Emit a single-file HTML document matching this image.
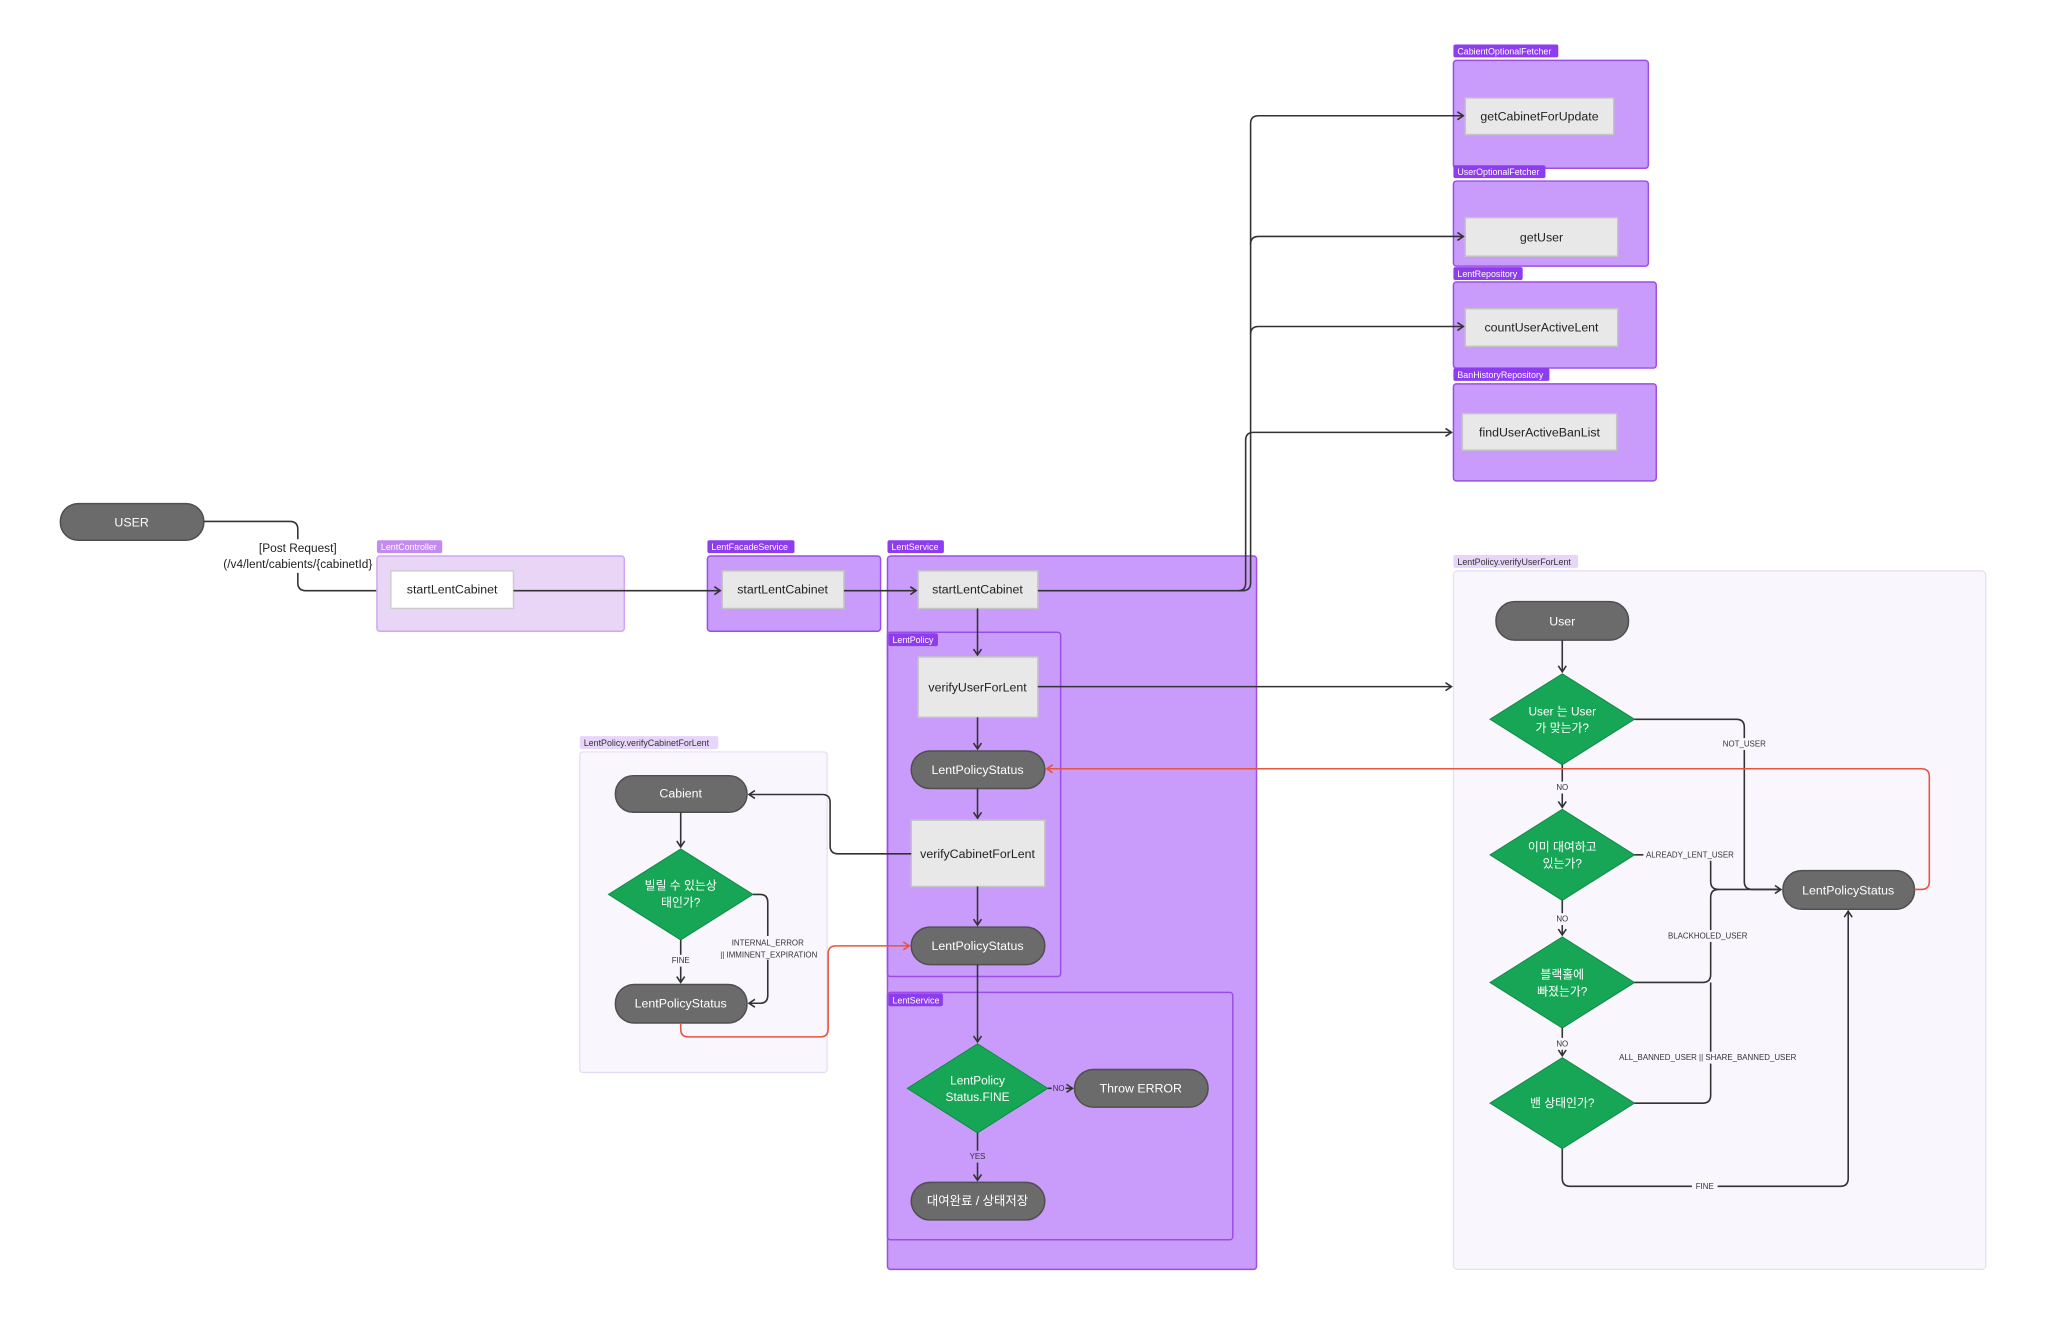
<!DOCTYPE html>
<html><head><meta charset="utf-8"><style>
html,body{margin:0;padding:0;background:#fff;}
svg{display:block;font-family:"Liberation Sans","Noto Sans CJK KR",sans-serif;}
.pill{fill:#6b6b6b;stroke:#4f4f4f;stroke-width:1.5}
.pt{fill:#fff;font-size:12.5px;text-anchor:middle;dominant-baseline:central}
.box{fill:#e8e8e8;stroke:#c4c4c4;stroke-width:1.5}
.bt{fill:#222;font-size:12.5px;text-anchor:middle;dominant-baseline:central}
.grp{fill:#c99cfb;stroke:#9a4ee6;stroke-width:1.5}
.tag{fill:#8d3cf0}
.tt{fill:#fff;font-size:9px;dominant-baseline:central}
.dia{fill:#17a656;stroke:#128a47;stroke-width:1}
.dt{fill:#fff;font-size:12px;text-anchor:middle;dominant-baseline:central}
.ln{fill:none;stroke:#333;stroke-width:1.6}
.rd{fill:none;stroke:#e8553e;stroke-width:1.6}
.lb{fill:#333;font-size:8px;text-anchor:middle;dominant-baseline:central}
</style></head><body>
<svg width="2048" height="1331" viewBox="0 0 2048 1331">
<defs>
<marker id="a" markerWidth="10" markerHeight="10" refX="8" refY="5" orient="auto" markerUnits="userSpaceOnUse"><path d="M2,1 L8,5 L2,9" fill="none" stroke="#333" stroke-width="1.6"/></marker>
<marker id="ar" markerWidth="10" markerHeight="10" refX="8" refY="5" orient="auto" markerUnits="userSpaceOnUse"><path d="M2,1 L8,5 L2,9" fill="none" stroke="#e8553e" stroke-width="1.6"/></marker>
</defs>
<g transform="scale(0.9894)">
<!-- USER -->
<rect class="pill" x="61" y="509" width="145" height="37" rx="18"/>
<text class="pt" x="133" y="528">USER</text>
<path class="ln" d="M206,527 H293 Q301,527 301,535 V589 Q301,597 309,597 H393" marker-end="url(#a)"/>
<rect x="222" y="545" width="158" height="34" fill="#fff"/>
<text class="bt" x="301" y="554" style="font-size:12px">[Post Request]</text>
<text class="bt" x="301" y="570" style="font-size:12px">(/v4/lent/cabients/{cabinetId}</text>

<!-- LentController -->
<rect x="381" y="562" width="250" height="76" rx="3" fill="#e9d6f7" stroke="#cfa6ef" stroke-width="1.5"/>
<rect x="381" y="546" width="66" height="13" rx="2" fill="#c58af2"/><text class="tt" x="385" y="553">LentController</text>
<rect x="395" y="577" width="124" height="38" fill="#fff" stroke="#ccc" stroke-width="1.5"/>
<text class="bt" x="457" y="596">startLentCabinet</text>

<!-- LentFacadeService -->
<rect class="grp" x="715" y="562" width="175" height="76" rx="3"/>
<rect class="tag" x="715" y="546" width="88" height="13" rx="2"/><text class="tt" x="719" y="553">LentFacadeService</text>
<rect class="box" x="730" y="577" width="123" height="38"/>
<text class="bt" x="791" y="596">startLentCabinet</text>

<!-- fetchers -->
<rect class="grp" x="1469" y="61" width="197" height="109" rx="3"/>
<rect class="tag" x="1469" y="45" width="106" height="13" rx="2"/><text class="tt" x="1473" y="52">CabientOptionalFetcher</text>
<rect class="box" x="1481" y="99" width="150" height="37"/><text class="bt" x="1556" y="118">getCabinetForUpdate</text>
<rect class="grp" x="1469" y="183" width="197" height="86" rx="3"/>
<rect class="tag" x="1469" y="167" width="93" height="13" rx="2"/><text class="tt" x="1473" y="174">UserOptionalFetcher</text>
<rect class="box" x="1481" y="220" width="154" height="39"/><text class="bt" x="1558" y="240">getUser</text>
<rect class="grp" x="1469" y="285" width="205" height="87" rx="3"/>
<rect class="tag" x="1469" y="270" width="70" height="13" rx="2"/><text class="tt" x="1473" y="277">LentRepository</text>
<rect class="box" x="1481" y="312" width="154" height="38"/><text class="bt" x="1558" y="331">countUserActiveLent</text>
<rect class="grp" x="1469" y="388" width="205" height="98" rx="3"/>
<rect class="tag" x="1469" y="372" width="97" height="13" rx="2"/><text class="tt" x="1473" y="379">BanHistoryRepository</text>
<rect class="box" x="1478" y="418" width="156" height="37"/><text class="bt" x="1556" y="437">findUserActiveBanList</text>

<!-- LentService big -->
<rect class="grp" x="897" y="562" width="373" height="721" rx="3"/>
<rect class="tag" x="897" y="546" width="57" height="13" rx="2"/><text class="tt" x="901" y="553">LentService</text>
<rect class="box" x="928" y="577" width="121" height="38"/>
<text class="bt" x="988" y="596">startLentCabinet</text>

<path class="ln" d="M519,597 H728" marker-end="url(#a)"/>
<path class="ln" d="M853,597 H926" marker-end="url(#a)"/>

<!-- connectors to fetchers -->
<path class="ln" d="M1049,597 H1256 Q1264,597 1264,589 V125 Q1264,117 1272,117 H1479" marker-end="url(#a)"/>
<path class="ln" d="M1264,247 Q1264,239 1272,239 H1479" marker-end="url(#a)"/>
<path class="ln" d="M1264,338 Q1264,330 1272,330 H1479" marker-end="url(#a)"/>
<path class="ln" d="M1252,597 Q1259,597 1259,589 V445 Q1259,437 1267,437 H1467" marker-end="url(#a)"/>

<!-- LentPolicy sub -->
<rect x="897" y="639" width="175" height="348" rx="3" fill="none" stroke="#9a4ee6" stroke-width="1.5"/>
<rect class="tag" x="898" y="640" width="50" height="13" rx="2"/><text class="tt" x="902" y="647">LentPolicy</text>
<path class="ln" d="M988,615 V662" marker-end="url(#a)"/>
<rect class="box" x="928" y="664" width="121" height="61"/>
<text class="bt" x="988" y="695">verifyUserForLent</text>
<path class="ln" d="M988,725 V757" marker-end="url(#a)"/>
<path class="ln" d="M1049,694 H1467" marker-end="url(#a)"/>
<rect class="pill" x="921" y="759" width="135" height="38" rx="19"/>
<text class="pt" x="988" y="778">LentPolicyStatus</text>
<path class="ln" d="M988,797 V827" marker-end="url(#a)"/>
<rect class="box" x="921" y="829" width="135" height="67"/>
<text class="bt" x="988" y="863">verifyCabinetForLent</text>
<path class="ln" d="M988,896 V935" marker-end="url(#a)"/>
<rect class="pill" x="921" y="937" width="135" height="38" rx="19"/>
<text class="pt" x="988" y="956">LentPolicyStatus</text>

<!-- LentService sub -->
<rect x="897" y="1003" width="349" height="250" rx="3" fill="none" stroke="#9a4ee6" stroke-width="1.5"/>
<rect class="tag" x="898" y="1004" width="55" height="13" rx="2"/><text class="tt" x="902" y="1011">LentService</text>
<path class="ln" d="M988,975 V1053" marker-end="url(#a)"/>
<polygon class="dia" points="988,1055 1059,1100 988,1145 917,1100"/>
<text class="dt" x="988" y="1092">LentPolicy</text><text class="dt" x="988" y="1109">Status.FINE</text>
<path class="ln" d="M1059,1100 H1084" marker-end="url(#a)"/>
<rect x="1063" y="1094" width="14" height="12" fill="#c99cfb"/><text class="lb" x="1070" y="1100">NO</text>
<rect class="pill" x="1086" y="1081" width="135" height="38" rx="19"/>
<text class="pt" x="1153" y="1100">Throw ERROR</text>
<path class="ln" d="M988,1145 V1193" marker-end="url(#a)"/>
<rect x="978" y="1163" width="20" height="12" fill="#c99cfb"/><text class="lb" x="988" y="1169">YES</text>
<rect class="pill" x="921" y="1195" width="135" height="38" rx="19"/>
<text class="pt" x="988" y="1214">대여완료 / 상태저장</text>

<!-- verifyCabinetForLent panel -->
<rect x="586" y="760" width="250" height="324" rx="3" fill="#f9f6fd" stroke="#e6dcf3" stroke-width="1.2"/>
<rect x="586" y="744" width="140" height="13" rx="2" fill="#e8d6fa"/><text class="tt" x="590" y="751" style="fill:#333">LentPolicy.verifyCabinetForLent</text>
<rect class="pill" x="622" y="784" width="133" height="37" rx="18"/>
<text class="pt" x="688" y="802">Cabient</text>
<path class="ln" d="M921,863 H847 Q839,863 839,855 V811 Q839,803 831,803 H757" marker-end="url(#a)"/>
<path class="ln" d="M688,821 V856" marker-end="url(#a)"/>
<polygon class="dia" points="688,858 761,904 688,950 615,904"/>
<text class="dt" x="688" y="895">빌릴 수 있는상</text><text class="dt" x="688" y="912">태인가?</text>
<path class="ln" d="M688,950 V993" marker-end="url(#a)"/>
<rect x="678" y="965" width="20" height="12" fill="#f9f6fd"/><text class="lb" x="688" y="971">FINE</text>
<path class="ln" d="M761,904 H768 Q776,904 776,912 V1006 Q776,1014 768,1014 H757" marker-end="url(#a)"/>
<rect x="730" y="946" width="94" height="24" fill="#f9f6fd"/>
<text class="lb" x="776" y="953">INTERNAL_ERROR</text><text class="lb" x="777" y="965">|| IMMINENT_EXPIRATION</text>
<rect class="pill" x="622" y="995" width="133" height="39" rx="19"/>
<text class="pt" x="688" y="1014">LentPolicyStatus</text>
<path class="rd" d="M688,1034 V1040 Q688,1048 696,1048 H829 Q837,1048 837,1040 V964 Q837,956 845,956 H919" marker-end="url(#ar)"/>

<!-- verifyUserForLent panel -->
<rect x="1469" y="577" width="538" height="706" rx="4" fill="#f9f6fd" stroke="#e6dcf3" stroke-width="1.2"/>
<rect x="1469" y="561" width="126" height="13" rx="2" fill="#e8d6fa"/><text class="tt" x="1473" y="568" style="fill:#333">LentPolicy.verifyUserForLent</text>
<rect class="pill" x="1512" y="608" width="134" height="39" rx="19"/>
<text class="pt" x="1579" y="628">User</text>
<path class="ln" d="M1579,647 V679" marker-end="url(#a)"/>
<polygon class="dia" points="1579,681 1652,727 1579,773 1506,727"/>
<text class="dt" x="1579" y="719">User 는 User</text><text class="dt" x="1579" y="736">가 맞는가?</text>
<path class="ln" d="M1579,773 V816" marker-end="url(#a)"/>
<rect x="1571" y="790" width="16" height="12" fill="#f9f6fd"/><text class="lb" x="1579" y="796">NO</text>
<polygon class="dia" points="1579,818 1652,864 1579,910 1506,864"/>
<text class="dt" x="1579" y="856">이미 대여하고</text><text class="dt" x="1579" y="873">있는가?</text>
<path class="ln" d="M1579,910 V945" marker-end="url(#a)"/>
<rect x="1571" y="923" width="16" height="12" fill="#f9f6fd"/><text class="lb" x="1579" y="929">NO</text>
<polygon class="dia" points="1579,947 1652,993 1579,1039 1506,993"/>
<text class="dt" x="1579" y="985">블랙홀에</text><text class="dt" x="1579" y="1002">빠졌는가?</text>
<path class="ln" d="M1579,1039 V1067" marker-end="url(#a)"/>
<rect x="1571" y="1049" width="16" height="12" fill="#f9f6fd"/><text class="lb" x="1579" y="1055">NO</text>
<polygon class="dia" points="1579,1069 1652,1115 1579,1161 1506,1115"/>
<text class="dt" x="1579" y="1115">밴 상태인가?</text>

<rect class="pill" x="1802" y="880" width="133" height="39" rx="19"/>
<text class="pt" x="1868" y="900">LentPolicyStatus</text>
<path class="ln" d="M1652,727 H1755 Q1763,727 1763,735 V891 Q1763,899 1771,899 H1800" marker-end="url(#a)"/>
<rect x="1740" y="746" width="46" height="12" fill="#f9f6fd"/><text class="lb" x="1763" y="752">NOT_USER</text>
<path class="ln" d="M1652,864 H1721 Q1729,864 1729,872 V891 Q1729,899 1737,899 H1800"/>
<rect x="1661" y="858" width="96" height="12" fill="#f9f6fd"/><text class="lb" x="1708" y="864">ALREADY_LENT_USER</text>
<path class="ln" d="M1652,993 H1721 Q1729,993 1729,985 V907 Q1729,899 1737,899"/>
<path class="ln" d="M1652,1115 H1721 Q1729,1115 1729,1107 V993"/>
<rect x="1683" y="940" width="86" height="12" fill="#f9f6fd"/><text class="lb" x="1726" y="946">BLACKHOLED_USER</text>
<rect x="1640" y="1063" width="172" height="12" fill="#f9f6fd"/><text class="lb" x="1726" y="1069">ALL_BANNED_USER || SHARE_BANNED_USER</text>
<path class="ln" d="M1579,1161 V1191 Q1579,1199 1587,1199 H1860 Q1868,1199 1868,1191 V921" marker-end="url(#a)"/>
<rect x="1710" y="1193" width="26" height="12" fill="#f9f6fd"/><text class="lb" x="1723" y="1199">FINE</text>

<path class="rd" d="M1935,899 H1942 Q1950,899 1950,891 V785 Q1950,777 1942,777 H1058" marker-end="url(#ar)"/>
</g>
</svg>
</body></html>
